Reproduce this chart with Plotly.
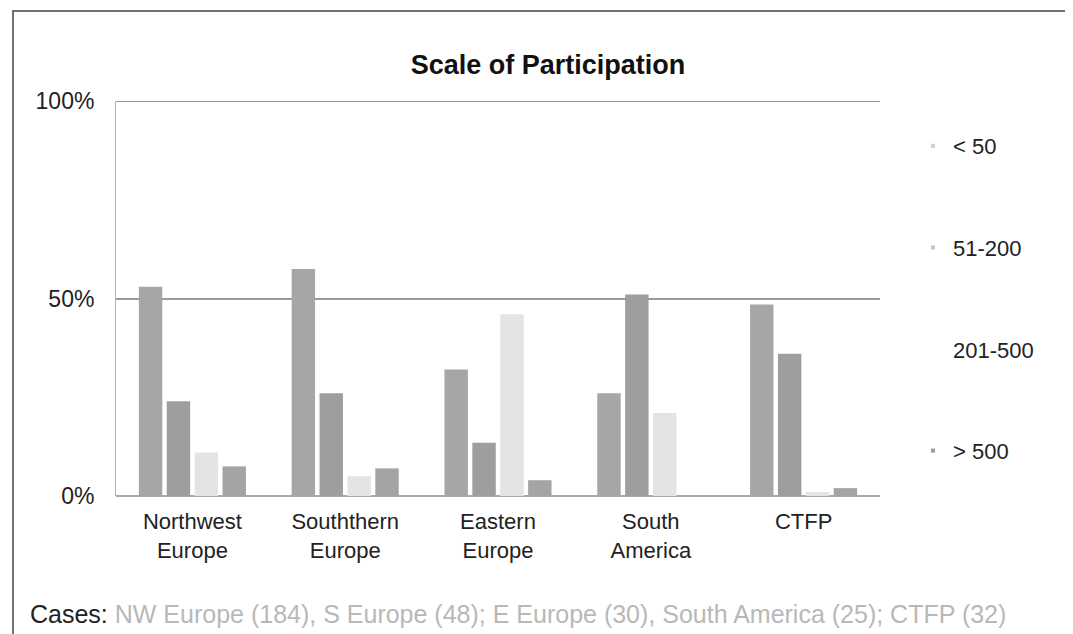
import plotly.graph_objects as go

regions = ["Northwest<br>Europe", "Souththern<br>Europe", "Eastern<br>Europe",
           "South<br>America", "CTFP"]
size_classes = ["< 50", "51-200", "201-500", "> 500"]

# percent of cases in each size class, per region
under_50 = [53, 57.5, 32, 26, 48.5]
from_51_200 = [24, 26, 13.5, 51, 36]
from_201_500 = [11, 5, 46, 21, 1]
over_500 = [7.5, 7, 4, 0, 2]

values = [under_50, from_51_200, from_201_500, over_500]
colors = ["#a6a6a6", "#9e9e9e", "#e4e4e4", "#a4a4a4"]
legend_dots = ["#cfcfcf", "#c4c4c4", "#ffffff", "#9a9a9a"]

cases_text = "NW Europe (184), S Europe (48); E Europe (30), South America (25); CTFP (32)"

FONT = "Liberation Sans, Arial, sans-serif"

fig = go.Figure()
for name, vals, col in zip(size_classes, values, colors):
    fig.add_trace(go.Bar(x=regions, y=vals, name=name, showlegend=False,
                         marker=dict(color=col, line=dict(width=0))))

# legend entries: the original only shows tiny dots next to the labels
for name, col in zip(size_classes, legend_dots):
    fig.add_trace(go.Scatter(x=[None], y=[None], mode="markers", name=name,
                             legendgroup=name,
                             marker=dict(color=col, size=4, symbol="square")))

# plot area in pixels: x 108..872, y 93..488
W, H = 1073, 634
L, R, T, B = 108, 201, 93, 146
pw, ph = W - L - R, H - T - B

def px(x):
    return (x - L) / pw

def py(y):
    return (H - B - y) / ph

fig.update_layout(
    width=W, height=H,
    margin=dict(l=L, r=R, t=T, b=B, autoexpand=False),
    paper_bgcolor="white", plot_bgcolor="white",
    font=dict(family=FONT, size=22, color="#222"),
    title=dict(text="<b>Scale of Participation</b>", x=540 / W, xref="container",
               xanchor="center", y=1 - 57 / H, yanchor="middle",
               font=dict(size=27, color="#111")),
    barmode="group", bargap=0.27, bargroupgap=0.16,
    showlegend=True,
    legend=dict(x=px(905), y=py(117), xanchor="left", yanchor="top",
                tracegroupgap=70, font=dict(size=22, color="#222"),
                bgcolor="rgba(0,0,0,0)", itemwidth=30),
    xaxis=dict(showline=False, ticks="", ticklabelstandoff=10,
               tickfont=dict(size=22, color="#222")),
    yaxis=dict(range=[0, 100], tickvals=[0, 50, 100],
               ticktext=["0%", "50%", "100%"], ticks="",
               showgrid=True, gridcolor="#9a9a9a", gridwidth=2,
               zeroline=True, zerolinecolor="#aaaaaa", zerolinewidth=2,
               showline=True, linecolor="#b5b5b5", linewidth=1,
               tickfont=dict(size=23, color="#222"), ticklabelstandoff=16),
)

# top gridline (100%) sits on the edge of the plot area
fig.add_shape(type="line", xref="paper", yref="y", x0=0, x1=1, y0=100, y1=100,
              line=dict(color="#9a9a9a", width=2))

# outer frame (left, top, right)
fig.add_shape(type="path", xref="paper", yref="paper",
              path=f"M {px(5)} {py(634)} L {px(5)} {py(3)} L {px(1067)} {py(3)} L {px(1067)} {py(634)}",
              line=dict(color="#444", width=1.5))

fig.add_annotation(xref="paper", yref="paper", x=px(20), y=py(606),
                   xanchor="left", yanchor="middle", showarrow=False,
                   text="Cases: <span style='color:#b8b8b8'>" + cases_text + "</span>",
                   font=dict(size=25, color="#222"))

fig.write_html("out.html")
